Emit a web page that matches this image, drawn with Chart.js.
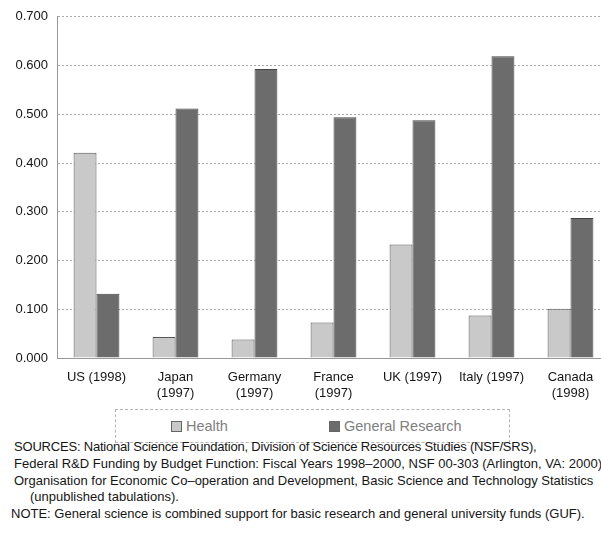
<!DOCTYPE html>
<html>
<head>
<meta charset="utf-8">
<script src="https://cdn.jsdelivr.net/npm/chart.js@4.4.1/dist/chart.umd.min.js"></script>
<style>
  html, body { margin: 0; padding: 0; background: #fff; overflow: hidden; width: 601px; height: 536px; }
  body { font-family: "Liberation Sans", Arial, sans-serif; position: relative; }
  #wrap { position: absolute; left: 0; top: 0; width: 612px; height: 400px; }
  #legend { position: absolute; left: 115px; top: 409px; width: 395px; height: 34px;
            border: 1px dashed #b5b5b5; box-sizing: border-box; color: #808080; font-size: 14.5px; }
  #legend span.item { position: absolute; top: 8px; white-space: nowrap; }
  #legend i { display: inline-block; width: 11px; height: 11px; margin-right: 4px; vertical-align: -1px;
              border: 1px solid #666; box-sizing: border-box; }
  #notes { position: absolute; left: 14px; top: 439px; font-size: 13px; line-height: 16.8px;
           color: #151515; white-space: nowrap; }
</style>
</head>
<body>
<div id="wrap"><canvas id="ch"></canvas></div>
<div id="legend"></div>
<div id="notes">
  <div style="letter-spacing:-0.2px">SOURCES: National Science Foundation, Division of Science Resources Studies (NSF/SRS),</div>
  <div>Federal R&amp;D Funding by Budget Function: Fiscal Years 1998–2000, NSF 00-303 (Arlington, VA: 2000);</div>
  <div>Organisation for Economic Co–operation and Development, Basic Science and Technology Statistics</div>
  <div style="padding-left:16px">(unpublished tabulations).</div>
  <div style="margin-left:-3px">NOTE: General science is combined support for basic research and general university funds (GUF).</div>
</div>
<script>
// categories and series
const countries = [['US (1998)'], ['Japan', '(1997)'], ['Germany', '(1997)'], ['France', '(1997)'],
                   ['UK (1997)'], ['Italy (1997)'], ['Canada', '(1998)']];
const health = [0.421, 0.043, 0.038, 0.073, 0.233, 0.087, 0.101];
const generalResearch = [0.132, 0.512, 0.593, 0.494, 0.488, 0.619, 0.287];
const yTicks = [0, 0.1, 0.2, 0.3, 0.4, 0.5, 0.6, 0.7];

const series = [
  { label: 'Health', data: health, fill: '#c9c9c9', line: '#555' },
  { label: 'General Research', data: generalResearch, fill: '#6c6c6c', line: '#444' }
];

new Chart(document.getElementById('ch'), {
  type: 'bar',
  data: {
    labels: countries,
    datasets: series.map(s => ({
      label: s.label, data: s.data,
      backgroundColor: s.fill, borderColor: s.line, borderWidth: 1,
      categoryPercentage: 0.58, barPercentage: 1
    }))
  },
  options: {
    responsive: true, maintainAspectRatio: false, animation: false,
    layout: { padding: { top: 6, right: 2, left: 0, bottom: 0 } },
    plugins: { legend: { display: false }, tooltip: { enabled: false } },
    scales: {
      x: {
        grid: { display: false, drawTicks: false },
        border: { display: true, color: '#999' },
        ticks: { color: '#151515', font: { family: 'Liberation Sans', size: 13 }, padding: 12, maxRotation: 0, autoSkip: false },
        afterFit: sc => { sc.height = 42; }
      },
      y: {
        min: 0, max: 0.7,
        afterBuildTicks: sc => { sc.ticks = yTicks.map(v => ({ value: v })); },
        grid: { color: '#aaa', lineWidth: 1, drawTicks: false },
        border: { display: true, color: '#999', dash: [2, 2] },   // dotted grid lines
        ticks: { color: '#151515', font: { family: 'Liberation Sans', size: 13 }, padding: 9,
                 callback: v => v.toFixed(3) },
        afterFit: sc => { sc.width = 57; }
      }
    }
  }
});

const lg = document.getElementById('legend');
const pos = [55, 213];
series.forEach((s, i) => {
  const el = document.createElement('span');
  el.className = 'item';
  el.style.left = pos[i] + 'px';
  el.innerHTML = '<i style="background:' + s.fill + '"></i>' + s.label;
  lg.appendChild(el);
});
</script>
</body>
</html>
